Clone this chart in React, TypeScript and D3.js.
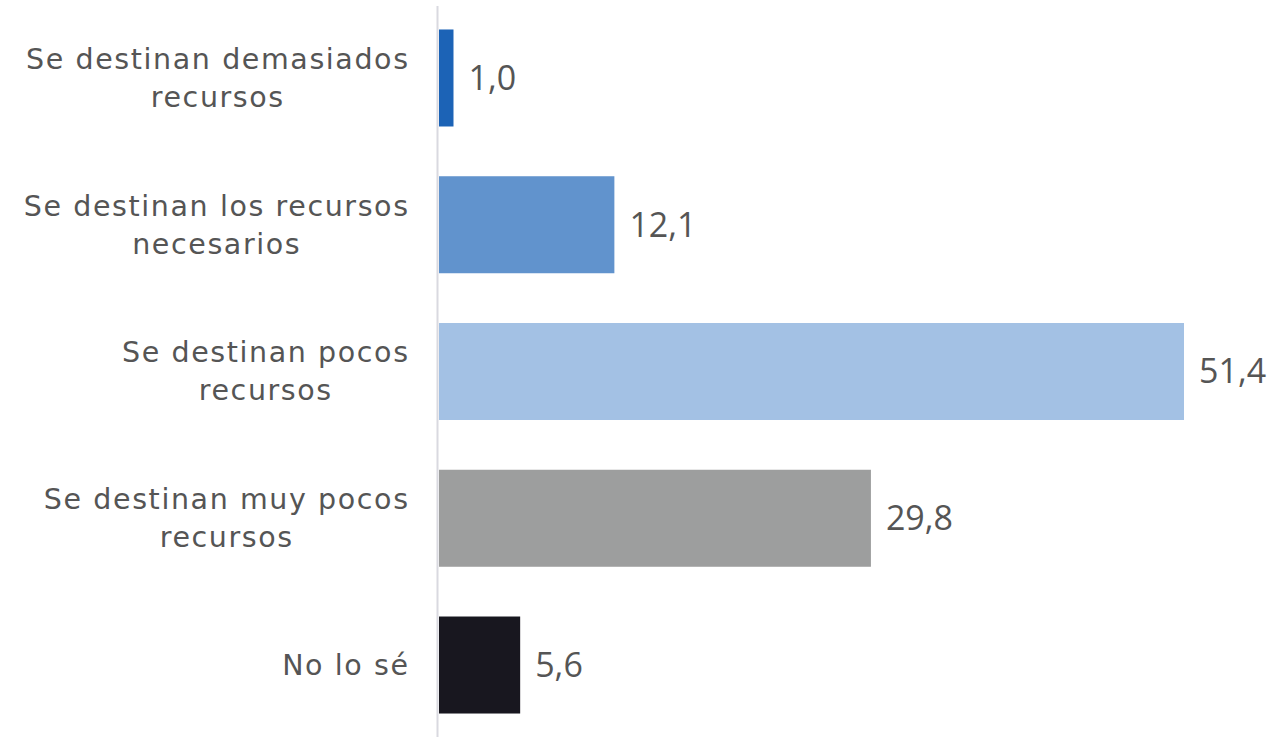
import React from "react";
import * as d3 from "d3";

const categories: string[][] = [
  ["Se destinan demasiados", "recursos"],
  ["Se destinan los recursos", "necesarios"],
  ["Se destinan pocos", "recursos"],
  ["Se destinan muy pocos", "recursos"],
  ["No lo sé"],
];
const values: number[] = [1.0, 12.1, 51.4, 29.8, 5.6];
const colors: string[] = ["#1c63b6", "#6193cd", "#a3c1e4", "#9d9e9e", "#18171f"];

const W = 1271;
const H = 737;
const x0 = 439;
const labelFont = "'DejaVu Sans', sans-serif";
const labelSize = 28.5;
const labelSpacing = 1.6;
const valueFont = "'Open Sans', sans-serif";

function measure(text: string): number {
  const c = document.createElement("canvas").getContext("2d");
  const base = c ? (() => { c.font = `${labelSize}px ${labelFont}`; return c.measureText(text).width; })() : text.length * labelSize * 0.6;
  return base + text.length * labelSpacing;
}

export default function App() {
  const ids = categories.map((_, i) => String(i));
  const y = d3.scaleBand<string>().domain(ids).range([6, 737]).paddingInner(0.339).paddingOuter(0.16);
  const x = d3.scaleLinear().domain([0, 51.4]).range([x0, 1184]);
  const fmt = (v: number) => v.toFixed(1).replace(".", ",");
  const right = 408 + labelSpacing;
  return (
    <svg width={W} height={H} style={{ position: "absolute", left: 0, top: 0 }}>
      <rect width={W} height={H} fill="#fff" />
      {values.map((v, i) => {
        const yy = y(String(i))!;
        const bh = y.bandwidth();
        const cy = yy + bh / 2;
        const lines = categories[i];
        const lh = 38;
        const maxW = Math.max(...lines.map(measure));
        const cx = right - maxW / 2;
        return (
          <g key={i}>
            <rect x={x(0)} y={yy} width={x(v) - x(0)} height={bh} fill={colors[i]} />
            <text x={x(v) + 15} y={cy} dy="0.35em" fontFamily={valueFont} fontSize={34} fill="#555">
              {fmt(v)}
            </text>
            <text fontFamily={labelFont} fontSize={labelSize} letterSpacing={labelSpacing} fill="#555" textAnchor="middle">
              {lines.map((l, j) => (
                <tspan key={j} x={cx} y={cy + (j - (lines.length - 1) / 2) * lh} dy="0.35em">
                  {l}
                </tspan>
              ))}
            </text>
          </g>
        );
      })}
      <line x1={437.5} x2={437.5} y1={6} y2={737} stroke="#d9d9e0" strokeWidth={2} />
    </svg>
  );
}
